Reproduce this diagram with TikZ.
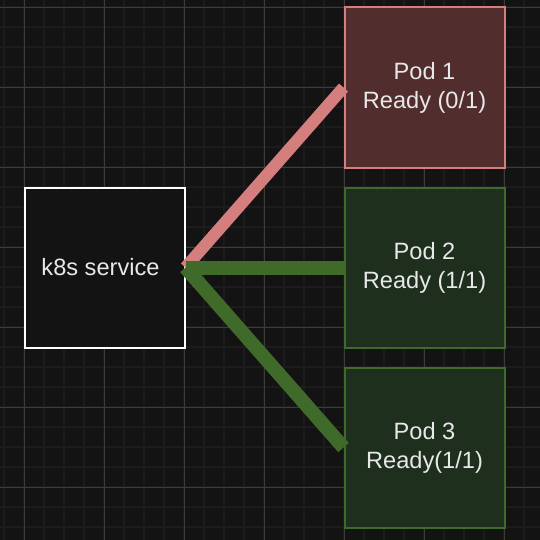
\documentclass[tikz,border=0pt]{standalone}
\usepackage{fontspec}
\setmainfont{Liberation Sans}
\definecolor{canvas}{HTML}{131313}
\definecolor{gridminor}{HTML}{1C1C1C}
\definecolor{gridmajor}{HTML}{3C3C3C}
\definecolor{podtext}{HTML}{E8E8E8}
\definecolor{redline}{HTML}{D47E7E}
\definecolor{redfill}{HTML}{512D2D}
\definecolor{greenline}{HTML}{406A29}
\definecolor{greenfill}{HTML}{1E2F1E}
\tikzset{box/.style={draw=#1,line width=1pt,minimum size=80pt,inner sep=0pt,
  align=center,text=podtext,font=\fontsize{11.8}{14.5}\selectfont},
  link/.style={line width=#1}}

\begin{document}
\begin{tikzpicture}[x=0.5pt,y=-0.5pt]
  \useasboundingbox (0,0) rectangle (540,540);
  \fill[canvas] (0,0) rectangle (540,540);
  % grid
  \foreach \X in {0,...,26}
  {\draw[gridminor,line width=1pt] (4+20*\X,0) -- (4+20*\X,540)
     (0,7+20*\X) -- (540,7+20*\X);}
  \foreach \X in {0,...,6}
  {\draw[gridmajor,line width=0.5pt] (24.5+80*\X,0) -- (24.5+80*\X,540)
     (0,7.5+80*\X) -- (540,7.5+80*\X);}
  \node[box=white,fill=canvas] (svc) at (104.5,267.5) {k8s service\hspace*{4pt}};
  \node[box=redline,fill=redfill] (pod1) at (424.5,87.5) {Pod 1\\Ready (0/1)};
  \node[box=greenline,fill=greenfill] (pod2) at (424.5,267.5) {Pod 2\\Ready (1/1)};
  \node[box=greenline,fill=greenfill] (pod3) at (424.5,447.5) {Pod 3\\Ready(1/1)};
  \draw[link=6pt,redline] (svc.east) -- (pod1.west);
  \foreach \X in {2,3}
  {\draw[link=7pt,greenline] (svc.east) -- (pod\X.west);}
\end{tikzpicture}
\end{document}
